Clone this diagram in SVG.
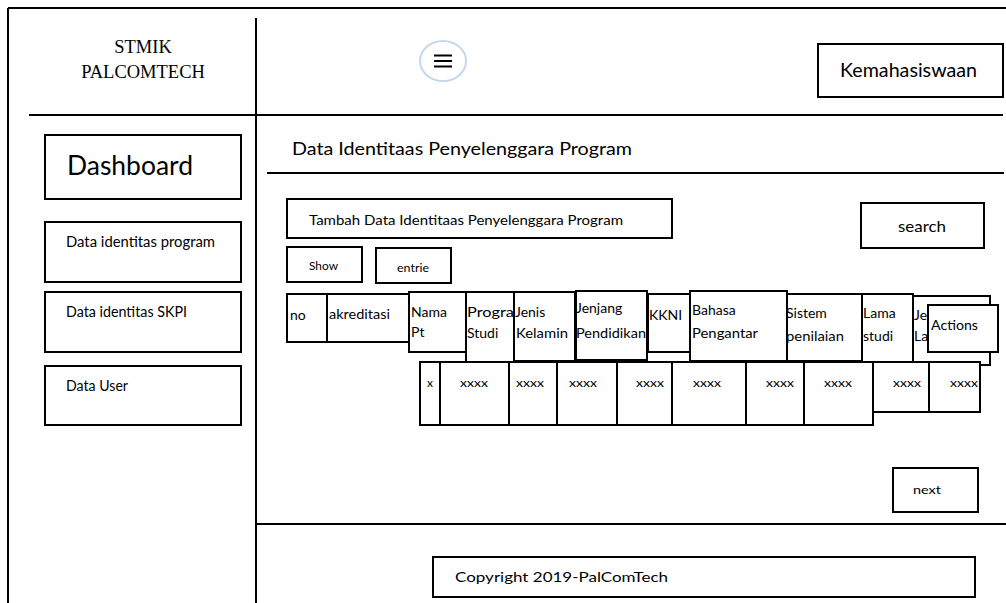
<svg xmlns="http://www.w3.org/2000/svg" width="1006" height="603" viewBox="0 0 1006 603">
  <style>
    .box { fill: #ffffff; stroke: #000000; stroke-width: 2; }
    .line { stroke: #000000; stroke-width: 2; fill: none; }
    .t { font-family: Lato, "Liberation Sans", sans-serif; fill: #000000; }
    .serif { font-family: "Liberation Serif", "Times New Roman", serif; fill: #000000; }
    .h { font-size: 14px; }
    .c { font-size: 12px; }
  </style>

  <rect x="0" y="0" width="1006" height="603" fill="#ffffff"/>

  <!-- page frame and section dividers -->
  <g id="frame">
    <line class="line" x1="8" y1="8" x2="1006" y2="8"/>
    <line class="line" x1="8" y1="8" x2="8" y2="603"/>
    <line class="line" x1="256" y1="18" x2="256" y2="603"/>
    <line class="line" x1="29" y1="115" x2="1003" y2="115"/>
    <line class="line" x1="267" y1="173" x2="1004" y2="173"/>
    <line class="line" x1="257" y1="524" x2="1006" y2="524"/>
  </g>

  <g id="brand">
    <text class="serif" x="143" y="53" font-size="18.5" text-anchor="middle">STMIK</text>
    <text class="serif" x="143" y="78" font-size="18.5" text-anchor="middle">PALCOMTECH</text>
  </g>

  <g id="menu-toggle">
    <ellipse cx="443" cy="61" rx="23" ry="20" fill="#ffffff" stroke="#c5d7ef" stroke-width="2"/>
    <line class="line" x1="434" y1="55.5" x2="452" y2="55.5" stroke-width="1.8"/>
    <line class="line" x1="434" y1="61" x2="452" y2="61" stroke-width="1.8"/>
    <line class="line" x1="434" y1="66.5" x2="452" y2="66.5" stroke-width="1.8"/>
  </g>

  <g id="user-menu">
    <rect class="box" x="818" y="44" width="185" height="53"/>
    <text class="t" x="840" y="77" font-size="19" textLength="137" lengthAdjust="spacingAndGlyphs">Kemahasiswaan</text>
  </g>

  <!-- sidebar -->
  <g id="nav-dashboard">
    <rect class="box" x="45" y="135" width="196" height="64"/>
    <text class="t" x="67" y="175" font-size="27" textLength="126" lengthAdjust="spacingAndGlyphs">Dashboard</text>
  </g>
  <g id="nav-identitas-program">
    <rect class="box" x="45" y="222" width="196" height="60"/>
    <text class="t" x="66" y="247" font-size="14.5" textLength="149" lengthAdjust="spacingAndGlyphs">Data identitas program</text>
  </g>
  <g id="nav-identitas-skpi">
    <rect class="box" x="45" y="292" width="196" height="60"/>
    <text class="t" x="66" y="317" font-size="14.5" textLength="121" lengthAdjust="spacingAndGlyphs">Data identitas SKPI</text>
  </g>
  <g id="nav-user">
    <rect class="box" x="45" y="366" width="196" height="59"/>
    <text class="t" x="66" y="391" font-size="14.5" textLength="62" lengthAdjust="spacingAndGlyphs">Data User</text>
  </g>

  <!-- content header -->
  <g id="page-title">
    <text class="t" x="292" y="155" font-size="17" textLength="340" lengthAdjust="spacingAndGlyphs">Data Identitaas Penyelenggara Program</text>
  </g>
  <g id="btn-tambah">
    <rect class="box" x="287" y="199" width="385" height="39"/>
    <text class="t" x="309" y="225" font-size="14" textLength="314" lengthAdjust="spacingAndGlyphs">Tambah Data Identitaas Penyelenggara Program</text>
  </g>
  <g id="search">
    <rect class="box" x="861" y="203" width="123" height="45"/>
    <text class="t" x="898" y="232" font-size="15" textLength="48" lengthAdjust="spacingAndGlyphs">search</text>
  </g>
  <g id="show">
    <rect class="box" x="287" y="247" width="75" height="35"/>
    <text class="t c" x="309" y="270" textLength="29" lengthAdjust="spacingAndGlyphs">Show</text>
  </g>
  <g id="entrie">
    <rect class="box" x="376" y="248" width="75" height="35"/>
    <text class="t c" x="397" y="272" textLength="32" lengthAdjust="spacingAndGlyphs">entrie</text>
  </g>

  <!-- table header cells -->
  <g id="th-no">
    <rect class="box" x="287" y="294" width="40" height="48"/>
    <text class="t h" x="290" y="320">no</text>
  </g>
  <g id="th-akreditasi">
    <rect class="box" x="327" y="294" width="82" height="48"/>
    <text class="t h" x="329" y="319" textLength="61" lengthAdjust="spacingAndGlyphs">akreditasi</text>
  </g>
  <g id="th-nama-pt">
    <rect class="box" x="409" y="292" width="57" height="60"/>
    <text class="t h" x="411" y="317">Nama</text>
    <text class="t h" x="411" y="337">Pt</text>
  </g>
  <g id="th-program-studi">
    <rect class="box" x="466" y="292" width="48" height="70"/>
    <text class="t h" x="467" y="317" textLength="47" lengthAdjust="spacingAndGlyphs">Progra</text>
    <text class="t h" x="467" y="338">Studi</text>
  </g>
  <g id="th-jenis-kelamin">
    <rect class="box" x="514" y="292" width="61" height="69"/>
    <text class="t h" x="515" y="317">Jenis</text>
    <text class="t h" x="516" y="338" textLength="52" lengthAdjust="spacingAndGlyphs">Kelamin</text>
  </g>
  <g id="th-jenjang">
    <rect class="box" x="576" y="291" width="71" height="69"/>
    <text class="t h" x="576" y="313">Jenjang</text>
    <text class="t h" x="576" y="338" textLength="70" lengthAdjust="spacingAndGlyphs">Pendidikan</text>
  </g>
  <g id="th-kkni">
    <rect class="box" x="648" y="294" width="42" height="58"/>
    <text class="t h" x="649" y="320">KKNI</text>
  </g>
  <g id="th-bahasa">
    <rect class="box" x="690" y="291" width="97" height="70"/>
    <text class="t h" x="692" y="315">Bahasa</text>
    <text class="t h" x="692" y="338" textLength="66" lengthAdjust="spacingAndGlyphs">Pengantar</text>
  </g>
  <g id="th-sistem">
    <rect class="box" x="787" y="294" width="75" height="67"/>
    <text class="t h" x="786" y="318">Sistem</text>
    <text class="t h" x="786" y="341" textLength="58" lengthAdjust="spacingAndGlyphs">penilaian</text>
  </g>
  <g id="th-lama-studi">
    <rect class="box" x="862" y="294" width="51" height="68"/>
    <text class="t h" x="863" y="318">Lama</text>
    <text class="t h" x="863" y="341">studi</text>
  </g>
  <g id="th-jenis-lanjut">
    <rect class="box" x="913" y="296" width="77" height="69"/>
    <text class="t h" x="914" y="320">Je</text>
    <text class="t h" x="914" y="341">La</text>
  </g>
  <g id="th-actions">
    <rect class="box" x="928" y="305" width="70" height="47"/>
    <text class="t h" x="931" y="330" textLength="47" lengthAdjust="spacingAndGlyphs">Actions</text>
  </g>

  <!-- table data row -->
  <g id="row-1">
    <rect class="box" x="420" y="362" width="20" height="63"/>
    <text class="t c" x="427" y="387">x</text>
    <rect class="box" x="440" y="362" width="69" height="63"/>
    <text class="t c" x="474" y="387" text-anchor="middle" textLength="28" lengthAdjust="spacingAndGlyphs">xxxx</text>
    <rect class="box" x="509" y="362" width="48" height="63"/>
    <text class="t c" x="530" y="387" text-anchor="middle" textLength="28" lengthAdjust="spacingAndGlyphs">xxxx</text>
    <rect class="box" x="557" y="362" width="60" height="63"/>
    <text class="t c" x="583" y="387" text-anchor="middle" textLength="28" lengthAdjust="spacingAndGlyphs">xxxx</text>
    <rect class="box" x="617" y="362" width="55" height="63"/>
    <text class="t c" x="650" y="387" text-anchor="middle" textLength="28" lengthAdjust="spacingAndGlyphs">xxxx</text>
    <rect class="box" x="672" y="362" width="74" height="63"/>
    <text class="t c" x="707" y="387" text-anchor="middle" textLength="28" lengthAdjust="spacingAndGlyphs">xxxx</text>
    <rect class="box" x="746" y="362" width="58" height="63"/>
    <text class="t c" x="780" y="387" text-anchor="middle" textLength="28" lengthAdjust="spacingAndGlyphs">xxxx</text>
    <rect class="box" x="804" y="362" width="69" height="63"/>
    <text class="t c" x="838" y="387" text-anchor="middle" textLength="28" lengthAdjust="spacingAndGlyphs">xxxx</text>
    <rect class="box" x="873" y="362" width="56" height="50"/>
    <text class="t c" x="907" y="387" text-anchor="middle" textLength="28" lengthAdjust="spacingAndGlyphs">xxxx</text>
    <rect class="box" x="929" y="362" width="51" height="50"/>
    <text class="t c" x="964" y="387" text-anchor="middle" textLength="28" lengthAdjust="spacingAndGlyphs">xxxx</text>
  </g>

  <g id="btn-next">
    <rect class="box" x="893" y="468" width="85" height="44"/>
    <text class="t c" x="913" y="494" textLength="28" lengthAdjust="spacingAndGlyphs">next</text>
  </g>

  <g id="footer">
    <rect class="box" x="433" y="557" width="542" height="40"/>
    <text class="t" x="455" y="582" font-size="14" textLength="213" lengthAdjust="spacingAndGlyphs">Copyright 2019-PalComTech</text>
  </g>
</svg>
